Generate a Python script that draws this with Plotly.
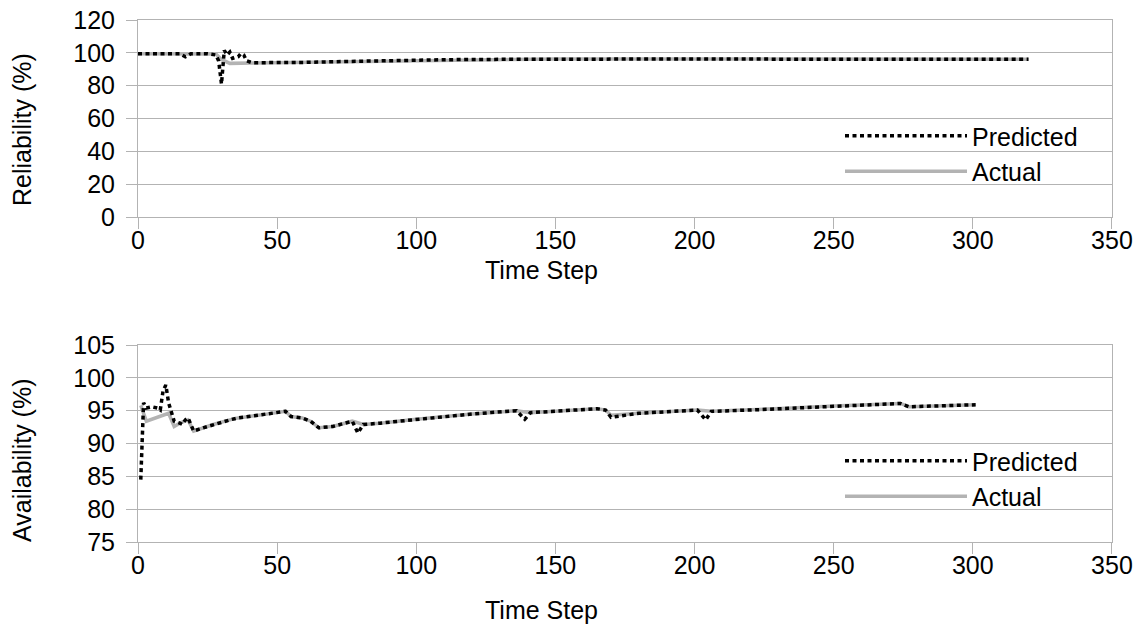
import plotly.graph_objects as go

# ---------------- data ----------------
rel_pred_x = [0, 5, 10, 15, 17, 19, 25, 28, 29, 30, 31, 32, 33, 34, 36, 37, 38, 39, 41,
              50, 60, 70, 80, 90, 100, 110, 120, 130, 140, 150, 160, 170, 180, 190, 200,
              210, 220, 230, 240, 250, 260, 270, 280, 290, 300, 310, 320]
rel_pred_y = [99.5, 99.5, 99.5, 99.5, 97.6, 99.5, 99.5, 98.7, 95.0, 81.0, 101.5, 98.7, 100.5, 96.6,
              97.6, 99.7, 98.7, 95.2, 94.0,
              94.0, 94.2, 94.6, 95.0, 95.3, 95.6, 95.8, 96.0, 96.1, 96.2, 96.3, 96.3, 96.4, 96.4,
              96.4, 96.3, 96.2, 96.2, 96.1, 96.1, 96.1, 96.1, 96.1, 96.1, 96.1, 96.1, 96.1, 96.1]

rel_act_x = [0, 10, 20, 28, 30, 33, 41, 50, 60, 70, 80, 90, 100, 110, 120, 130, 140, 150,
             160, 170, 180, 190, 200, 210, 220, 230, 240, 250, 260, 270, 280, 290, 300, 310, 320]
rel_act_y = [99.5, 99.5, 99.5, 99.3, 96.0, 93.6, 93.8, 94.0, 94.2, 94.6, 95.0, 95.3, 95.6,
             95.8, 96.0, 96.1, 96.2, 96.3, 96.3, 96.4, 96.4, 96.4, 96.3, 96.2, 96.2, 96.1,
             96.1, 96.1, 96.1, 96.1, 96.1, 96.1, 96.1, 96.1, 96.1]

av_pred_x = [1, 2, 3, 5, 7, 8, 9, 10, 11, 12, 13, 15, 16, 17, 18, 19, 20, 22, 27, 33, 36,
             45, 53, 55, 59, 62, 65, 70, 77, 79, 81, 87, 100, 120, 136, 139, 141, 150, 165,
             168, 170, 180, 201, 204, 206, 220, 235, 250, 264, 274, 277, 290, 301]
av_pred_y = [84.5, 96.2, 95.4, 95.6, 95.4, 95.1, 98.0, 98.9, 96.2, 94.6, 93.4, 93.1, 92.9,
             93.6, 93.9, 92.9, 91.9, 92.2, 92.9, 93.6, 93.9,
             94.4, 94.9, 94.1, 93.9, 93.4, 92.4, 92.6, 93.4, 91.6, 92.9, 93.1, 93.7, 94.5,
             95.0, 93.7, 94.7, 94.9, 95.3, 95.1, 94.0, 94.6, 95.1, 93.6, 94.9, 95.1, 95.4,
             95.7, 95.9, 96.1, 95.6, 95.8, 95.9]

av_act_x = [1, 3, 11, 13, 15, 18, 20, 22, 27, 33, 36, 45, 53, 55, 59, 62, 65, 70, 77, 81,
            87, 100, 120, 136, 141, 150, 165, 168, 170, 180, 201, 206, 220, 235, 250, 264,
            274, 277, 290, 301]
av_act_y = [95.8, 93.4, 94.6, 92.6, 93.1, 93.6, 91.9, 92.2, 92.9, 93.6, 93.9, 94.4, 94.9,
            94.1, 93.9, 93.4, 92.4, 92.6, 93.4, 92.9, 93.1, 93.7, 94.5, 95.0, 94.7, 94.9,
            95.3, 95.1, 94.3, 94.6, 95.1, 94.9, 95.1, 95.4, 95.7, 95.9, 96.1, 95.6, 95.8, 95.9]

x_ticks = [0, 50, 100, 150, 200, 250, 300, 350]
rel_ticks = [0, 20, 40, 60, 80, 100, 120]
av_ticks = [75, 80, 85, 90, 95, 100, 105]

# ---------------- styling ----------------
FONT = "Liberation Sans, Arial, sans-serif"
FS = 25
GRID = "#b3b3b3"
W, H = 1147, 643
OFF = 0  # page body margin removed via post_script
# desired on-screen plot area: x 138..1112, y 20..542
ML, MT = 138 - OFF, 20 - OFF
MR, MB = W - (1112 - OFF), H - (542 - OFF)
PW, PH = W - ML - MR, H - MT - MB


def px_x(p):
    return (p - OFF - ML) / PW


def px_y(p):
    return 1 - (p - OFF - MT) / PH


pred_line = dict(color="black", width=3.5, dash="4px,3.5px")
act_line = dict(color="#b3b3b3", width=3.5)

fig = go.Figure()
fig.add_trace(go.Scatter(x=rel_act_x, y=rel_act_y, mode="lines", name="Actual",
                         line=act_line, xaxis="x", yaxis="y", legend="legend"))
fig.add_trace(go.Scatter(x=rel_pred_x, y=rel_pred_y, mode="lines", name="Predicted",
                         line=pred_line, xaxis="x", yaxis="y", legend="legend"))
fig.add_trace(go.Scatter(x=av_act_x, y=av_act_y, mode="lines", name="Actual",
                         line=act_line, xaxis="x2", yaxis="y2", legend="legend2"))
fig.add_trace(go.Scatter(x=av_pred_x, y=av_pred_y, mode="lines", name="Predicted",
                         line=pred_line, xaxis="x2", yaxis="y2", legend="legend2"))

xax = dict(range=[0, 350.01], tickvals=x_ticks, showgrid=False, zeroline=False, automargin=False,
           ticks="outside", ticklen=11, tickcolor=GRID, showline=True, linecolor=GRID,
           linewidth=1, mirror=True, ticklabelstandoff=-10, ticklabeloverflow="allow",
           tickfont=dict(size=FS, color="black", family=FONT))
yax_common = dict(showgrid=True, gridcolor=GRID, gridwidth=1, zeroline=False, automargin=False,
                  ticks="outside", ticklen=11, tickcolor=GRID, showline=True,
                  linecolor=GRID, linewidth=1, mirror=True, ticklabelstandoff=6,
                  ticklabeloverflow="allow",
                  tickfont=dict(size=FS, color="black", family=FONT))

top_dom = [px_y(217), 1]
bot_dom = [0, px_y(345)]

legend_common = dict(font=dict(size=FS, color="black", family=FONT), bgcolor="rgba(0,0,0,0)",
                     traceorder="reversed", itemwidth=122, xanchor="left", yanchor="top",
                     tracegroupgap=0, itemsizing="trace")

fig.update_layout(
    width=W, height=H,
    margin=dict(l=ML, r=MR, t=MT, b=MB, autoexpand=False),
    paper_bgcolor="white", plot_bgcolor="white",
    font=dict(family=FONT, size=FS, color="black"),
    xaxis=dict(**xax, domain=[0, 1], anchor="y"),
    yaxis=dict(**yax_common, domain=top_dom, range=[0, 120.02], tickvals=rel_ticks, anchor="x"),
    xaxis2=dict(**xax, domain=[0, 1], anchor="y2"),
    yaxis2=dict(**yax_common, domain=bot_dom, range=[75, 105.005], tickvals=av_ticks, anchor="x2"),
    legend=dict(**legend_common, x=px_x(840), y=px_y(113)),
    legend2=dict(**legend_common, x=px_x(840), y=px_y(438)),
    annotations=[
        dict(text="Time Step", xref="paper", yref="paper", x=px_x(541), y=px_y(270),
             showarrow=False, xanchor="center", yanchor="middle", font=dict(size=FS)),
        dict(text="Time Step", xref="paper", yref="paper", x=px_x(541), y=px_y(610),
             showarrow=False, xanchor="center", yanchor="middle", font=dict(size=FS)),
        dict(text="Reliability (%)", xref="paper", yref="paper", x=px_x(22), y=px_y(130),
             showarrow=False, textangle=-90, xanchor="center", yanchor="middle",
             font=dict(size=FS)),
        dict(text="Availability (%)", xref="paper", yref="paper", x=px_x(22), y=px_y(461),
             showarrow=False, textangle=-90, xanchor="center", yanchor="middle",
             font=dict(size=FS)),
    ],
)

fig.write_html("out.html", config={"displayModeBar": False},
               post_script="document.body.style.margin='0';")
